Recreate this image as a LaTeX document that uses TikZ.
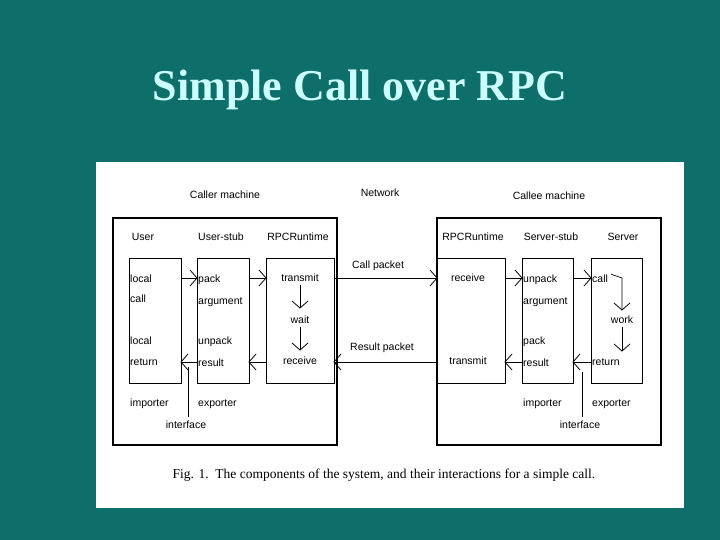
\documentclass[tikz,border=0pt]{standalone}
\usepackage{fontspec}
\setmainfont{Liberation Serif}
\newfontfamily\dfont{Liberation Sans}
\definecolor{bg}{HTML}{0E6E6A}
\definecolor{ttl}{HTML}{CCFFFF}
\newcommand\hdR[1]{\draw[hdl] (#1) ++(-7,-8) -- (#1) -- ++(-7,8);}
\newcommand\hdL[1]{\draw[hdl] (#1) ++(7,-8) -- (#1) -- ++(7,8);}
\newcommand\hdD[1]{\draw[hdl] (#1) ++(-8,-7) -- (#1) -- ++(8,-7);}
\begin{document}
\begin{tikzpicture}[x=1pt,y=-1pt,
  t/.style={font=\dfont\fontsize{10.5}{12}\selectfont,inner sep=0pt,anchor=base west},
  c/.style={font=\dfont\fontsize{10.5}{12}\selectfont,inner sep=0pt},
  box/.style={draw,line width=0.9pt},
  ar/.style={line width=0.7pt},
  hdl/.style={line width=0.8pt}]
\useasboundingbox (0,0) rectangle (720,540);
\fill[bg] (0,0) rectangle (720,540);
\node[text=ttl,font=\bfseries\fontsize{44}{50}\selectfont] (title) at (360,90) {Simple Call over RPC};
\fill[white] (96,162) rectangle (684,508);
% outer boxes
\draw[box,line width=1.3pt] (113,218) rectangle (337,445);
\draw[box,line width=1.3pt] (437,218) rectangle (661,445);
\node[c] (cm) at (225,195) {Caller machine};
\node[c] (nw) at (380,193) {Network};
\node[c] (ce) at (549,196) {Callee machine};
% headers
\node[c] (h1) at (143,237) {User};
\node[c] (h2) at (221,237) {User-stub};
\node[c] (h3) at (298,237) {RPCRuntime};
\node[c] (h4) at (473,237) {RPCRuntime};
\node[c] (h5) at (551,237) {Server-stub};
\node[c] (h6) at (623,237) {Server};
% inner boxes
\draw[box] (129,258) rectangle (181,383);
\draw[box] (197,258) rectangle (249,383);
\draw[box] (266,258) rectangle (334,383);
\draw[box] (437,258) rectangle (505,383);
\draw[box] (522,258) rectangle (573,383);
\draw[box] (591,258) rectangle (642,383);
% left texts
\node[t] (lc1) at (130,282) {local};
\node[t] (lc2) at (130,302) {call};
\node[t] (lr1) at (130,344) {local};
\node[t] (lr2) at (130,365) {return};
\node[t] (pk) at (198,282) {pack};
\node[t] (ag) at (198,304) {argument};
\node[t] (up) at (198,344) {unpack};
\node[t] (rs) at (198,366) {result};
\node[c] (tr) at (300,278) {transmit};
\node[c] (wt) at (300,320) {wait};
\node[c] (rc) at (300,361) {receive};
\node[t] (im1) at (130,406) {importer};
\node[t] (ex1) at (198,406) {exporter};
\node[c] (if1) at (186,425) {interface};
% right texts
\node[c] (rc2) at (468,278) {receive};
\node[c] (tr2) at (468,361) {transmit};
\node[t] (up2) at (523,282) {unpack};
\node[t] (ag2) at (523,304) {argument};
\node[t] (pk2) at (523,344) {pack};
\node[t] (rs2) at (523,366) {result};
\node[t] (cl) at (592,282) {call};
\node[c] (wk) at (622,320) {work};
\node[t] (rt) at (592,365) {return};
\node[t] (im2) at (523,406) {importer};
\node[t] (ex2) at (592,406) {exporter};
\node[c] (if2) at (580,425) {interface};
% packets
\node[c] (cp) at (378,266) {Call packet};
\node[c] (rp) at (382,348) {Result packet};
\coordinate (a1) at (181,278); \coordinate (a2) at (197,278);
\coordinate (a3) at (249,278); \coordinate (a4) at (266,278);
\coordinate (a5) at (334,278); \coordinate (a6) at (437,278);
\coordinate (a7) at (505,278); \coordinate (a8) at (522,278);
\coordinate (a9) at (573,278); \coordinate (a10) at (591,278);
\draw[ar] (a1) -- (a2); \draw[ar] (a3) -- (a4); \draw[ar] (a5) -- (a6);
\draw[ar] (a7) -- (a8); \draw[ar] (a9) -- (a10);
\hdR{a2} \hdR{a4} \hdR{a6} \hdR{a8} \hdR{a10}
\coordinate (b1) at (181,362); \coordinate (b2) at (197,362);
\coordinate (b3) at (249,362); \coordinate (b4) at (266,362);
\coordinate (b5) at (334,362); \coordinate (b6) at (437,362);
\coordinate (b7) at (505,362); \coordinate (b8) at (522,362);
\coordinate (b9) at (573,362); \coordinate (b10) at (591,362);
\draw[ar] (b2) -- (b1); \draw[ar] (b4) -- (b3); \draw[ar] (b6) -- (b5);
\draw[ar] (b8) -- (b7); \draw[ar] (b10) -- (b9);
\hdL{b1} \hdL{b3} \hdL{b5} \hdL{b7} \hdL{b9}
\coordinate (w1) at (300,308); \coordinate (w2) at (300,350);
\coordinate (k1) at (622,310); \coordinate (k2) at (622,351);
\draw[ar] (tr.south) ++(0,3) -- (w1);
\draw[ar] (wt.south) ++(0,3) -- (w2);
\draw[ar] (cl.east) ++(3,-4) -- (622,278) -- (k1);
\draw[ar] (wk.south) ++(0,3) -- (k2);
\hdD{w1} \hdD{w2} \hdD{k1} \hdD{k2}
\draw[line width=0.6pt] (if1.north) ++(2,-4) -- (188,367);
\draw[line width=0.6pt] (if2.north) ++(2,-4) -- (582,372);
\node[font=\fontsize{13.5}{16}\selectfont] (cap) at (384,475) {Fig. 1.\enspace The components of the system, and their interactions for a simple call.};
\end{tikzpicture}
\end{document}
